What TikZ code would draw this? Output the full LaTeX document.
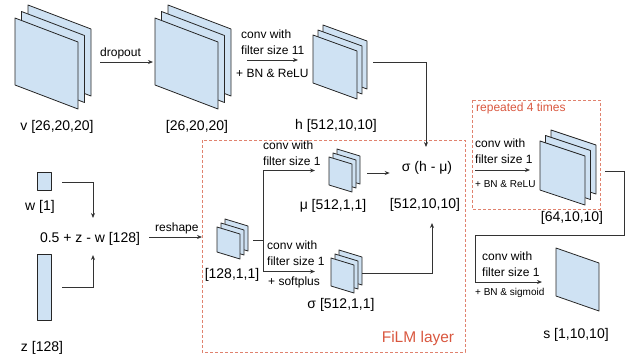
\documentclass[tikz,border=0pt]{standalone}
\usepackage{fontspec}
\setmainfont{Liberation Sans}
\usetikzlibrary{arrows.meta}
\definecolor{slicefill}{HTML}{CFE2F3}
\definecolor{filmred}{HTML}{D9573F}
\definecolor{filmdash}{HTML}{E0826E}
\newcommand{\featmap}[8]{%
  \foreach \k in {#7,...,1}{%
    \pgfmathsetmacro{\shiftamt}{(\k-1)*#8}%
    \filldraw[slice] (#2+\shiftamt,#3-\shiftamt) -- ++(#4,#6) -- ++(0,#5) -- ++(-#4,-#6) -- cycle;
  }%
  \pgfmathsetmacro{\stackspread}{(#7-1)*#8}%
  \node[inner sep=0,outer sep=0,minimum width={#4+\stackspread},
    minimum height={#5+#6+\stackspread},anchor=north west] (#1) at (#2,#3-\stackspread) {};%
}
\begin{document}
\begin{tikzpicture}[x=1pt,y=-1pt,
    slice/.style={fill=slicefill,draw=black!85,line width=0.8pt,line join=round},
    conn/.style={draw=black!80,line width=0.8pt},
    arr/.style={conn,-{Stealth[length=5pt,width=4pt]}},
    lbl/.style={font=\fontsize{14}{16}\selectfont,inner sep=0},
    cv/.style={font=\fontsize{12}{16}\selectfont,align=left,anchor=west,inner sep=0},
    sm/.style={font=\fontsize{10}{12}\selectfont,anchor=west,inner sep=0},
    filmbox/.style={draw=filmdash,dash pattern=on 3pt off 2pt,line width=0.8pt},
    filmtext/.style={text=filmred,inner sep=0}]
  \useasboundingbox (0,0) rectangle (638,360);

  \draw[filmbox] (202,140) rectangle (465,352);
  \draw[filmbox] (472,100) rectangle (600,209);
  \node[filmtext,font=\fontsize{15.5}{18}\selectfont] (filmlbl) at (418,338) {FiLM layer};
  \node[filmtext,font=\fontsize{12}{14}\selectfont,anchor=west] (replbl) at (476,108) {repeated 4 times};

  \featmap{v}{15}{18}{63}{67}{24}{3}{6.5}
  \featmap{vd}{155}{18}{63}{67}{24}{3}{6.5}
  \featmap{h}{313}{35}{44}{48}{16}{3}{5}
  \featmap{r}{217}{227}{23}{25}{7}{3}{4}
  \featmap{mu}{329}{157}{23}{28}{7}{3}{4}
  \featmap{sig}{331}{258}{23}{28}{7}{3}{4}
  \featmap{p}{540}{141}{45}{49}{15}{3}{5.5}
  \featmap{s}{556}{248}{43}{48}{15}{1}{0}

  \node[slice,inner sep=0,minimum width=14,minimum height=18] (w) at (44,181) {};
  \node[slice,inner sep=0,minimum width=14,minimum height=66] (z) at (44,287) {};

  \node[lbl] (vlbl) at (57,127) {v [26,20,20]};
  \node[lbl] (vdlbl) at (197,127) {[26,20,20]};
  \node[lbl] (hlbl) at (336,126) {h [512,10,10]};
  \node[lbl] (wlbl) at (40,207) {w [1]};
  \node[lbl] (zlbl) at (42,348) {z [128]};
  \node[lbl] (zw) at (90,239) {0.5 + z - w [128]};
  \node[lbl] (rlbl) at (232,275) {[128,1,1]};
  \node[lbl] (mulbl) at (333,206) {μ [512,1,1]};
  \node[lbl] (siglbl) at (341,305) {σ [512,1,1]};
  \node[lbl] (hmu) at (427,168) {σ (h - μ)};
  \node[lbl] (out) at (425,205) {[512,10,10]};
  \node[lbl] (plbl) at (572,218) {[64,10,10]};
  \node[lbl] (slbl) at (576,335) {s [1,10,10]};

  \node[cv] (dropout) at (100,53) {dropout};
  \node[cv] (conv1) at (241,42) {conv with\\filter size 11};
  \node[cv] (bn1) at (236,73) {+ BN \& ReLU};
  \node[cv] (reshape) at (155,228) {reshape};
  \node[cv] (convmu) at (263,153) {conv with\\filter size 1};
  \node[cv] (convsig) at (267,253) {conv with\\filter size 1};
  \node[cv] (softplus) at (268,282) {+ softplus};
  \node[cv] (convp) at (475,151) {conv with\\filter size 1};
  \node[sm] (bnp) at (475,184) {+ BN \& ReLU};
  \node[cv] (convs) at (482,264) {conv with\\filter size 1};
  \node[sm] (bns) at (475,293) {+ BN \& sigmoid};

  \coordinate (fork) at (263,240);
  \coordinate (loop) at (475,235);

  \draw[arr] ([shift={(9,5)}]v.east) -- ([shift={(-2,5)}]vd.west);
  \draw[arr] ([shift={(16,3)}]vd.east) -- ([shift={(-15,-2)}]h.west);
  \draw[arr] ([shift={(6,0)}]h.east) -| ([shift={(-1,-21)}]hmu.center);
  \draw[arr] ([shift={(11,1)}]w.east) -| ([shift={(3,-21)}]zw.center);
  \draw[arr] ([shift={(11,0)}]z.east) -| ([shift={(3,16)}]zw.center);
  \draw[arr] ([shift={(9,-2)}]zw.east) -- ([shift={(-15,-2)}]r.west);
  \draw[conn] ([shift={(5,1)}]r.east) -- (fork);
  \draw[arr] (fork) |- ([shift={(-14,0)}]mu.west);
  \draw[arr] (fork) |- ([shift={(-16,0)}]sig.west);
  \draw[arr] ([shift={(7,2.5)}]mu.east) -- ([shift={(-12,5)}]hmu.west);
  \draw[arr] ([shift={(0,1.5)}]sig.east) -| ([shift={(7,18)}]out.center);
  \draw[arr] ([shift={(-65,2.5)}]p.west) -- ([shift={(-10,2.5)}]p.west);
  \draw[arr] ([shift={(9,3.5)}]p.east) -- ++(19,0) |- (loop) |- ([shift={(-14,2.5)}]s.west);
\end{tikzpicture}
\end{document}
